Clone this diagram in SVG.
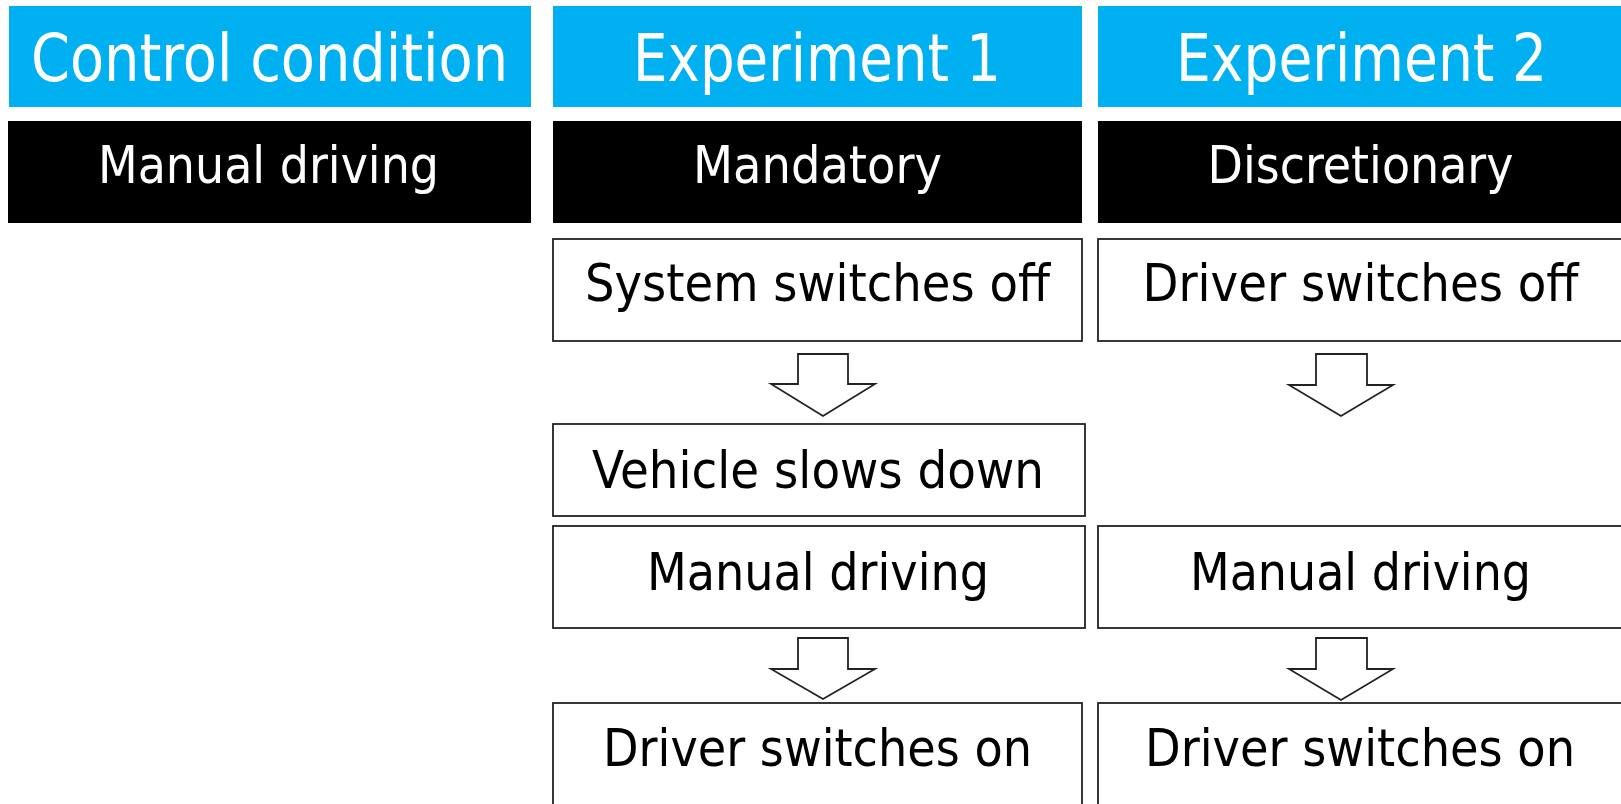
<svg xmlns="http://www.w3.org/2000/svg" width="1621" height="804" viewBox="0 0 1621 804">
<style>
.hdr{fill:#00B0F0}
.sub{fill:#000}
.box{fill:#fff;stroke:#222;stroke-width:1.8}
.arr{fill:#fff;stroke:#222;stroke-width:1.8;stroke-linejoin:miter}
text{font-family:"DejaVu Sans Condensed","DejaVu Sans",sans-serif;text-anchor:middle}
.th{fill:#fff;font-size:65px}
.ts{fill:#fff;font-size:52px}
.tb{fill:#000;font-size:52px}
</style>
<rect width="1621" height="804" fill="#fff"/>
<g id="hdr-control"><rect class="hdr" x="9" y="6" width="522" height="101"/><text class="th" x="269.5" y="81" textLength="477" lengthAdjust="spacingAndGlyphs">Control condition</text></g>
<g id="hdr-exp1"><rect class="hdr" x="553" y="6" width="529" height="101"/><text class="th" x="817" y="81" textLength="368" lengthAdjust="spacingAndGlyphs">Experiment 1</text></g>
<g id="hdr-exp2"><rect class="hdr" x="1098" y="6" width="530" height="101"/><text class="th" x="1361.5" y="81" textLength="371" lengthAdjust="spacingAndGlyphs">Experiment 2</text></g>
<g id="sub-manual"><rect class="sub" x="8" y="121" width="523" height="102"/><text class="ts" x="268.5" y="183" textLength="341" lengthAdjust="spacingAndGlyphs">Manual driving</text></g>
<g id="sub-mandatory"><rect class="sub" x="553" y="121" width="529" height="102"/><text class="ts" x="817.5" y="183" textLength="249" lengthAdjust="spacingAndGlyphs">Mandatory</text></g>
<g id="sub-discretionary"><rect class="sub" x="1098" y="121" width="530" height="102"/><text class="ts" x="1360.5" y="183" textLength="306" lengthAdjust="spacingAndGlyphs">Discretionary</text></g>
<g id="e1-system-off"><rect class="box" x="553" y="239" width="529" height="102"/><text class="tb" x="817.5" y="301" textLength="465" lengthAdjust="spacingAndGlyphs">System switches off</text></g>
<g id="e1-slows"><rect class="box" x="553" y="424" width="532" height="92"/><text class="tb" x="818" y="487.5" textLength="452" lengthAdjust="spacingAndGlyphs">Vehicle slows down</text></g>
<g id="e1-manual"><rect class="box" x="553" y="526" width="532" height="102"/><text class="tb" x="818" y="590" textLength="342" lengthAdjust="spacingAndGlyphs">Manual driving</text></g>
<g id="e1-driver-on"><rect class="box" x="553" y="703" width="529" height="130"/><text class="tb" x="817.5" y="766" textLength="429" lengthAdjust="spacingAndGlyphs">Driver switches on</text></g>
<g id="e2-driver-off"><rect class="box" x="1098" y="239" width="530" height="102"/><text class="tb" x="1360.5" y="301" textLength="436" lengthAdjust="spacingAndGlyphs">Driver switches off</text></g>
<g id="e2-manual"><rect class="box" x="1098" y="526" width="530" height="102"/><text class="tb" x="1360.5" y="590" textLength="341" lengthAdjust="spacingAndGlyphs">Manual driving</text></g>
<g id="e2-driver-on"><rect class="box" x="1098" y="703" width="530" height="130"/><text class="tb" x="1360" y="766" textLength="430" lengthAdjust="spacingAndGlyphs">Driver switches on</text></g>
<g id="connectors">
<polygon class="arr" points="798,354 848,354 848,384 875,384 823,416 771,384 798,384"/>
<polygon class="arr" points="798,638 848,638 848,669 875,669 823,699 771,669 798,669"/>
<polygon class="arr" points="1316,354 1367,354 1367,385 1393,385 1341,416 1289,385 1316,385"/>
<polygon class="arr" points="1316,638 1367,638 1367,669 1393,669 1341,700 1289,669 1316,669"/>
</g>
</svg>
